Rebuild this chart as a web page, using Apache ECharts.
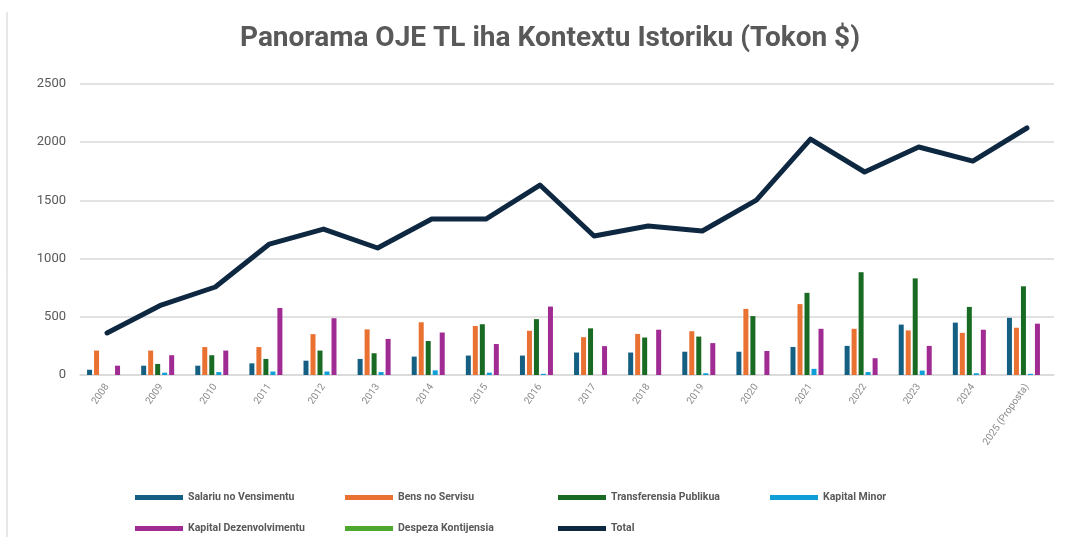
<!DOCTYPE html>
<html>
<head>
<meta charset="utf-8">
<script src="https://cdn.jsdelivr.net/npm/echarts@6/dist/echarts.min.js"></script>
<style>html,body{margin:0;padding:0;background:#fff}#c{width:1069px;height:537px}</style>
</head>
<body>
<div id="c"></div>
<script>
const categories = ['2008','2009','2010','2011','2012','2013','2014','2015','2016','2017','2018','2019','2020','2021','2022','2023','2024','2025 (Proposta)'];
const salariu      = [45, 80, 80, 100, 123, 138, 158, 167, 167, 193, 193, 200, 200, 241, 250, 433, 450, 491];
const bens         = [210, 210, 240, 240, 351, 392, 453, 421, 380, 325, 353, 376, 568, 609, 397, 383, 362, 406];
const transferensia= [0, 95, 170, 138, 210, 187, 292, 436, 480, 401, 322, 330, 506, 706, 883, 830, 585, 762];
const kapitalMinor = [0, 20, 25, 30, 30, 25, 40, 20, 10, 0, 0, 15, 0, 53, 25, 38, 15, 10];
const kapitalDezen = [80, 170, 210, 576, 488, 310, 365, 266, 588, 248, 389, 274, 206, 397, 144, 250, 389, 441];
const despeza      = [0, 0, 0, 0, 0, 0, 0, 0, 0, 0, 0, 0, 0, 0, 0, 0, 0, 0];
const total        = [361, 601, 756, 1125, 1254, 1091, 1340, 1340, 1632, 1194, 1280, 1237, 1503, 2027, 1744, 1959, 1838, 2122];
const yTicks = [0, 500, 1000, 1500, 2000, 2500];

const names = ['Salariu no Vensimentu','Bens no Servisu','Transferensia Publikua','Kapital Minor','Kapital Dezenvolvimentu','Despeza Kontijensia','Total'];
const colors = ['#156082','#E97132','#196B24','#0F9ED5','#A02B93','#4EA72E','#0E2841'];
const barData = [salariu, bens, transferensia, kapitalMinor, kapitalDezen, despeza];

const series = barData.map((d, i) => ({
  name: names[i], type: 'bar', data: d, barWidth: 5, barGap: '40%',
  itemStyle: { color: colors[i] }
}));
series.push({
  name: names[6], type: 'line', data: total, symbol: 'none',
  lineStyle: { color: colors[6], width: 5, join: 'round', cap: 'round' },
  itemStyle: { color: colors[6] }, z: 5
});

const legendPos = [[130,487],[340,487],[553,487],[765,487],[130,518],[340,518],[553,518]];
const legends = names.map((n, i) => ({
  data: [{ name: n, icon: 'rect' }],
  left: legendPos[i][0], top: legendPos[i][1],
  itemWidth: 48, itemHeight: 5, itemGap: 0,
  textStyle: { color: '#595959', fontSize: 10.5, fontWeight: 'bold', fontFamily: 'Roboto' },
  selectedMode: false
}));

const chart = echarts.init(document.getElementById('c'));
chart.setOption({
  animation: false,
  title: {
    text: 'Panorama OJE TL iha Kontextu Istoriku (Tokon $)',
    left: 545, top: 20, textAlign: 'center',
    textStyle: { color: '#595959', fontSize: 28, fontWeight: 'bold', fontFamily: 'Roboto' }
  },
  legend: legends,
  grid: { left: 80, right: 15, top: 84, bottom: 162 },
  xAxis: {
    type: 'category', data: categories,
    axisLine: { lineStyle: { color: '#d9d9d9', width: 1.5 } },
    axisTick: { show: false },
    axisLabel: { rotate: 55, color: '#8c8c8c', fontSize: 10, margin: 10, interval: 0, fontFamily: 'Roboto' }
  },
  yAxis: {
    type: 'value', min: yTicks[0], max: yTicks[yTicks.length-1], interval: 500,
    axisLine: { show: false }, axisTick: { show: false },
    axisLabel: { color: '#595959', fontSize: 13, margin: 14, fontFamily: 'Roboto', formatter: v => String(v) },
    splitLine: { lineStyle: { color: '#d9d9d9', width: 1.5 } }
  },
  graphic: [{ type: 'line', shape: { x1: 7, y1: 12, x2: 7, y2: 537 }, style: { stroke: '#d0d0d0', lineWidth: 1 } }],
  series: series
});
</script>
</body>
</html>
